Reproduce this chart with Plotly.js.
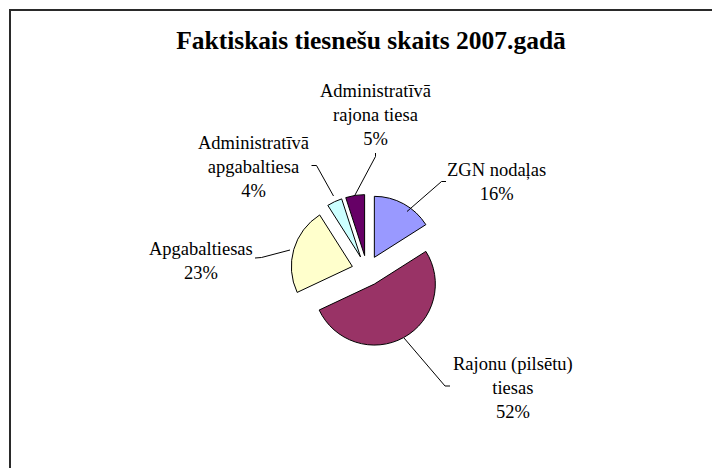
<!DOCTYPE html>
<html>
<head>
<meta charset="utf-8">
<script src="https://cdn.plot.ly/plotly-3.0.1.min.js"></script>
<style>
html,body{margin:0;padding:0;background:#fff;}
#chart{width:712px;height:468px;}
</style>
</head>
<body>
<div id="chart"></div>
<script>
// ---- data ----
const chartTitle = "Faktiskais tiesnešu skaits 2007.gadā";
const categories = ["ZGN nodaļas", "Rajonu (pilsētu) tiesas", "Apgabaltiesas", "Administratīvā apgabaltiesa", "Administratīvā rajona tiesa"];
const labelLines = [["ZGN nodaļas"], ["Rajonu (pilsētu)", "tiesas"], ["Apgabaltiesas"], ["Administratīvā", "apgabaltiesa"], ["Administratīvā", "rajona tiesa"]];
const values = [16, 52, 23, 4, 5];
const colors = ["#9999FF", "#993366", "#FFFFCC", "#CCFFFF", "#660066"];

// ---- layout helpers (pixel -> paper) ----
const W = 712, H = 468;
const px = x => x / W;
const py = y => 1 - y / H;
const FONT = "'Liberation Serif', 'Times New Roman', Times, serif";

const total = values.reduce((a, b) => a + b, 0);
const pctText = values.map(v => Math.round(v / total * 100) + '%');

// label text centres (pixels)
const labelPos = [[496, 182.5], [513, 388], [201, 261], [253.5, 167], [375, 114.5]];
// leader lines (pixels)
const leaders = [
  [[407, 211.5], [441.5, 181.5], [446, 181.5]],
  [[404, 338], [445, 386], [450, 386]],
  [[290, 250], [261.5, 257.5], [255, 258]],
  [[333.5, 196], [316.5, 165.5], [311.5, 165.5]],
  [[355, 195], [375.5, 156.5], [375.5, 153]]
];

const annotations = categories.map((c, i) => ({
  xref: 'paper', yref: 'paper',
  x: px(labelPos[i][0]), y: py(labelPos[i][1]),
  xanchor: 'center', yanchor: 'middle',
  text: labelLines[i].concat([pctText[i]]).join('<br>'),
  showarrow: false, align: 'center',
  font: {family: FONT, size: 18.5, color: '#000'}
}));

const shapes = leaders.map(pts => ({
  type: 'path', xref: 'paper', yref: 'paper',
  path: pts.map((p, k) => (k ? 'L' : 'M') + px(p[0]) + ',' + py(p[1])).join(' '),
  line: {color: '#000', width: 1}
}));
shapes.push({
  type: 'rect', xref: 'paper', yref: 'paper',
  x0: px(10), x1: 1.2, y0: -0.2, y1: py(10),
  line: {color: '#2a2a2a', width: 2}, fillcolor: 'rgba(0,0,0,0)'
});

// pie geometry: centre (367, 270.7), r = 61, pull 0.25
const cx = 367, cy = 270.7, half = 61 * 1.25;

const trace = {
  type: 'pie',
  labels: categories,
  values: values,
  sort: false,
  direction: 'clockwise',
  rotation: 0,
  pull: values.map(() => 0.25),
  marker: {colors: colors, line: {color: '#000', width: 1}},
  textinfo: 'none',
  hoverinfo: 'label+percent',
  showlegend: false,
  domain: {x: [px(cx - half), px(cx + half)], y: [py(cy + half), py(cy - half)]}
};

const layout = {
  width: W, height: H,
  margin: {l: 0, r: 0, t: 0, b: 0},
  paper_bgcolor: '#fff',
  font: {family: FONT, color: '#000'},
  showlegend: false,
  title: {
    text: '<b>' + chartTitle + '</b>',
    xref: 'paper', yref: 'container',
    x: px(371), y: py(40.5), xanchor: 'center', yanchor: 'middle',
    font: {family: FONT, size: 25.5, color: '#000'}
  },
  annotations: annotations,
  shapes: shapes
};

Plotly.newPlot('chart', [trace], layout, {displayModeBar: false, staticPlot: true});
</script>
</body>
</html>
